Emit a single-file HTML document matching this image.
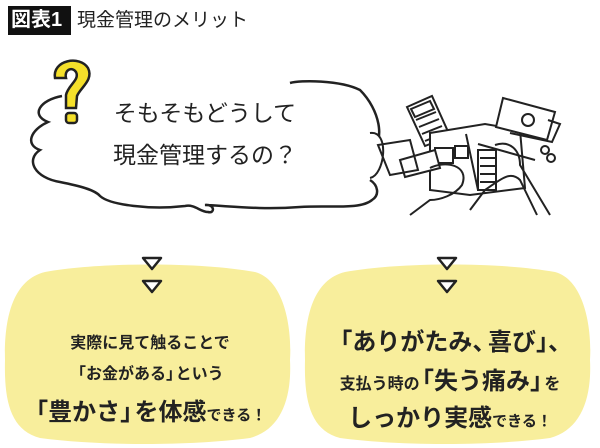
<!DOCTYPE html>
<html><head><meta charset="utf-8"><style>
body{margin:0;background:#fff;width:600px;height:448px;overflow:hidden;position:relative;font-family:"Liberation Sans","Noto Sans CJK JP",sans-serif;color:#222}
.t{position:absolute;white-space:nowrap;font-weight:bold}
.o{margin-left:-.4em}
.c{margin-right:-.4em}
</style></head><body>
<svg width="600" height="448" style="position:absolute;left:0;top:0">
<rect x="8" y="6" width="63" height="29" fill="#111"/>
<path d="M62 96 C40 100,30 115,48 122 C30 130,25 145,40 150 C25 160,35 178,60 182 C80 186,95 190,100 196 C110 205,150 210,185 206 C195 204,200 212,208 212 C215 214,215 204,205 205 C230 206,260 210,300 207 C330 205,360 210,372 200 C380 195,378 185,370 180 M372 150 C385 140,380 110,360 90 C340 80,300 80,290 83" fill="none" stroke="#222" stroke-width="2.5"/>
<path d="M55 78 C52 60,80 55,88 68 C94 80,80 88,77 96 L76 108 L66 108 L66 95 C68 85,80 80,76 72 C72 66,64 70,66 78 Z" fill="#f5e02a" stroke="#222" stroke-width="2.5"/>
<rect x="66" y="113" width="11" height="10" rx="3" fill="#f5e02a" stroke="#222" stroke-width="2.5"/>
<g fill="none" stroke="#222" stroke-width="2">
<path d="M407 107 L432 96 L450 136 L425 146 Z" fill="#fff"/>
<path d="M411 109 L430 101 L434 109 L415 117 Z"/>
<path d="M416 120 l20 -8 M419 127 l20 -8 M422 134 l20 -8 M425 141 l20 -8"/>
<path d="M430 133 L485 124 L520 130 L525 188 L470 195 L430 190 Z" fill="#fff"/>
<path d="M466 134 L478 190"/>
<path d="M435 148 h18 v15 h-18z M455 146 h13 v12 h-13z M478 150 h18 v40 h-18z"/>
<path d="M480 158 h16 M480 166 h16 M480 174 h16 M480 182 h16"/>
<path d="M503 98 L555 112 L547 140 L496 127 Z" fill="#fff"/>
<circle cx="528" cy="120" r="6"/>
<path d="M548 120 L560 124 L552 142 L510 133"/>
<circle cx="545" cy="150" r="4"/><circle cx="551" cy="158" r="4"/>
<path d="M478 144 L535 160"/>
<path d="M370 133 C390 130,385 175,370 178 M378 145 L410 140 L418 170 L390 175 Z M400 160 L435 150 L440 168 L405 177 Z" fill="#fff"/>
<path d="M430 168 C445 160,470 165,462 185 C455 195,440 200,430 200 L410 215 M470 210 L485 190 C500 180,510 170,520 180 L537 215 M495 145 C510 140,520 150,520 165 L550 215"/>
</g>
<path d="M45 272 C100 262,200 262,255 272 C285 280,292 330,290 360 C292 400,280 430,250 438 C190 446,100 446,40 438 C10 430,4 400,5 360 C4 320,12 280,45 272 Z" fill="#f8ee9c"/>
<path d="M345 272 C400 262,500 262,555 272 C585 280,592 330,590 360 C592 400,580 430,550 438 C490 446,400 446,340 438 C310 430,304 400,305 360 C304 320,312 280,345 272 Z" fill="#f8ee9c"/>
<g fill="#fff" stroke="#222" stroke-width="2.5" stroke-linejoin="round">
<path d="M143 258 h18 l-9 11 z"/><path d="M143 281 h18 l-9 11 z"/>
<path d="M438 258 h18 l-9 11 z"/><path d="M438 281 h18 l-9 11 z"/>
</g>
</svg>
<div class="t" style="left:11px;top:7px;font-size:20px;color:#fff;line-height:27px">図表1</div>
<div class="t" style="left:77px;top:8px;font-size:19px;font-weight:normal;line-height:26px">現金管理のメリット</div>
<div class="t" style="left:90px;top:97px;width:230px;text-align:center;font-size:23px;line-height:32px;font-weight:normal">そもそもどうして</div>
<div class="t" style="left:90px;top:139px;width:230px;text-align:center;font-size:23px;line-height:32px;font-weight:normal">現金管理するの？</div>
<div class="t" style="left:0;top:329px;width:300px;text-align:center;font-size:16px">実際に見て触ることで</div>
<div class="t" style="left:0;top:360px;width:300px;text-align:center;font-size:16px"><span class="o">「</span>お金がある<span class="c">」</span>という</div>
<div class="t" style="left:0;top:392px;width:300px;text-align:center;font-size:24px"><span class="o">「</span>豊かさ<span class="c">」</span>を体感<span style="font-size:15px">できる！</span></div>
<div class="t" style="left:305px;top:322px;width:300px;text-align:center;font-size:24px"><span class="o">「</span>ありがたみ<span style="margin-right:-.35em">、</span>喜び」、</div>
<div class="t" style="left:300px;top:361px;width:300px;text-align:center;font-size:16px">支払う時の<span style="font-size:24px"><span class="o">「</span>失う痛み<span class="c">」</span></span>を</div>
<div class="t" style="left:300px;top:398px;width:300px;text-align:center;font-size:24px">しっかり実感<span style="font-size:15px">できる！</span></div>
</body></html>
